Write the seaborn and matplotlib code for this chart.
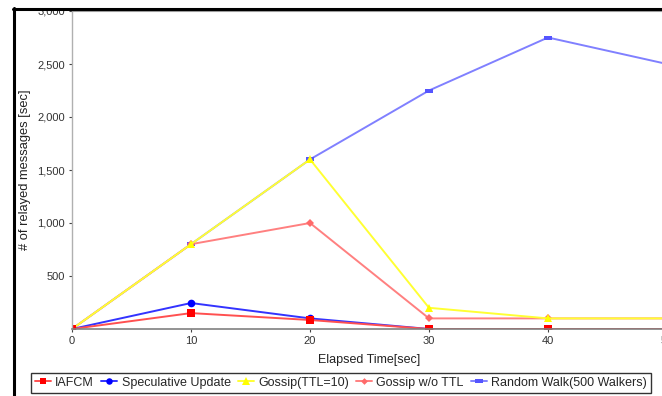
import matplotlib
matplotlib.use("Agg")
import matplotlib.pyplot as plt
import matplotlib.ticker as mticker
from matplotlib.lines import Line2D
from matplotlib.patches import Rectangle
import pandas as pd
import seaborn as sns

# data
elapsed = [0, 10, 20, 30, 40, 50]
iafcm = [0, 150, 85, 0, 0, 0]
speculative = [0, 245, 100, 0, 0, 0]
gossip_ttl = [0, 800, 1600, 200, 100, 100]
gossip_nottl = [0, 800, 1000, 100, 100, 100]
random_walk = [0, 800, 1600, 2250, 2750, 2500]

x_ticks = [0, 10, 20, 30, 40, 50]
y_ticks = [500, 1000, 1500, 2000, 2500, 3000]

# flat rectangle marker for the random walk series
flat_rect = [(-1, -0.55), (1, -0.55), (1, 0.55), (-1, 0.55), (-1, -0.55)]

series = [
    # name, values, line colour, marker colour, marker, size
    ("Random Walk(500 Walkers)", random_walk, "#8080ff", "#5555ff", flat_rect, 6),
    ("Gossip w/o TTL", gossip_nottl, "#ff8080", "#ff6a6a", "D", 4),
    ("Gossip(TTL=10)", gossip_ttl, "#ffff33", "#ffff00", "^", 6),
    ("Speculative Update", speculative, "#3333ff", "#0000ff", "o", 5.5),
    ("IAFCM", iafcm, "#ff5050", "#ff0000", "s", 5.5),
]
legend_order = ["IAFCM", "Speculative Update", "Gossip(TTL=10)",
                "Gossip w/o TTL", "Random Walk(500 Walkers)"]

sns.set_style("white")
plt.rcParams["font.family"] = ["Liberation Sans", "DejaVu Sans"]

fig = plt.figure(figsize=(6.62, 3.96), dpi=100)
ax = fig.add_axes([72 / 662, 67 / 396, 595 / 662, 318 / 396])

handles = {}
for name, vals, lc, mc, mk, ms in series:
    df = pd.DataFrame({"t": elapsed, "v": vals})
    sns.lineplot(data=df, x="t", y="v", ax=ax, color=lc, linewidth=1.4,
                 marker=mk, markersize=ms, markerfacecolor=mc,
                 markeredgecolor=mc, markeredgewidth=0)
    handles[name] = Line2D([0], [0], color=lc, linewidth=1.4, marker=mk,
                           markersize=ms * 0.85, markerfacecolor=mc,
                           markeredgewidth=0)

ax.set_xlim(0, 50)
ax.set_ylim(0, 3000)
ax.set_xticks(x_ticks)
ax.set_yticks(y_ticks)
ax.yaxis.set_major_formatter(mticker.StrMethodFormatter("{x:,.0f}"))
ax.tick_params(axis="both", labelsize=8, colors="#444444", length=2,
               width=0.8, pad=3, direction="out", left=True, bottom=True)
for lab in ax.get_xticklabels() + ax.get_yticklabels():
    lab.set_color("#333333")

ax.set_xlabel("Elapsed Time[sec]", fontsize=9, labelpad=6, color="#222222")
ax.set_ylabel("# of relayed messages [sec]", fontsize=9.3, color="#222222")
ax.yaxis.set_label_coords((31 - 72) / 595, 0.5)

ax.spines["right"].set_visible(False)
ax.spines["bottom"].set_color("#808080")
ax.spines["bottom"].set_linewidth(1.2)
ax.spines["top"].set_color("#a0a0a0")
ax.spines["left"].set_color("#b0b0b0")
ax.spines["left"].set_linestyle((0, (1, 1)))
ax.spines["left"].set_linewidth(1)
for sp in ax.spines.values():
    sp.set_zorder(5)

leg = fig.legend([handles[n] for n in legend_order], legend_order,
                 loc="upper left", bbox_to_anchor=(31 / 662, 1 - 373 / 396),
                 ncol=5, frameon=True, fontsize=9, handlelength=1.3,
                 handletextpad=0.35, columnspacing=0.55, borderpad=0.3,
                 fancybox=False, borderaxespad=0)
leg.get_frame().set_edgecolor("black")
leg.get_frame().set_linewidth(1)

# white strip above frame, then the black crop frame
fig.add_artist(Rectangle((0, 1 - 8 / 396), 1, 8 / 396,
                         transform=fig.transFigure, facecolor="white",
                         edgecolor="none", zorder=20))
fig.add_artist(Rectangle((0, 0), 12 / 662, 1,
                         transform=fig.transFigure, facecolor="white",
                         edgecolor="none", zorder=20))
fig.add_artist(Line2D([13.5 / 662, 13.5 / 662], [0, 1 - 8 / 396],
                      transform=fig.transFigure, color="black",
                      linewidth=2.2, zorder=21))
fig.add_artist(Line2D([12.5 / 662, 1], [1 - 9 / 396, 1 - 9 / 396],
                      transform=fig.transFigure, color="black",
                      linewidth=2.2, zorder=21))

fig.savefig("out.png", dpi=100)
